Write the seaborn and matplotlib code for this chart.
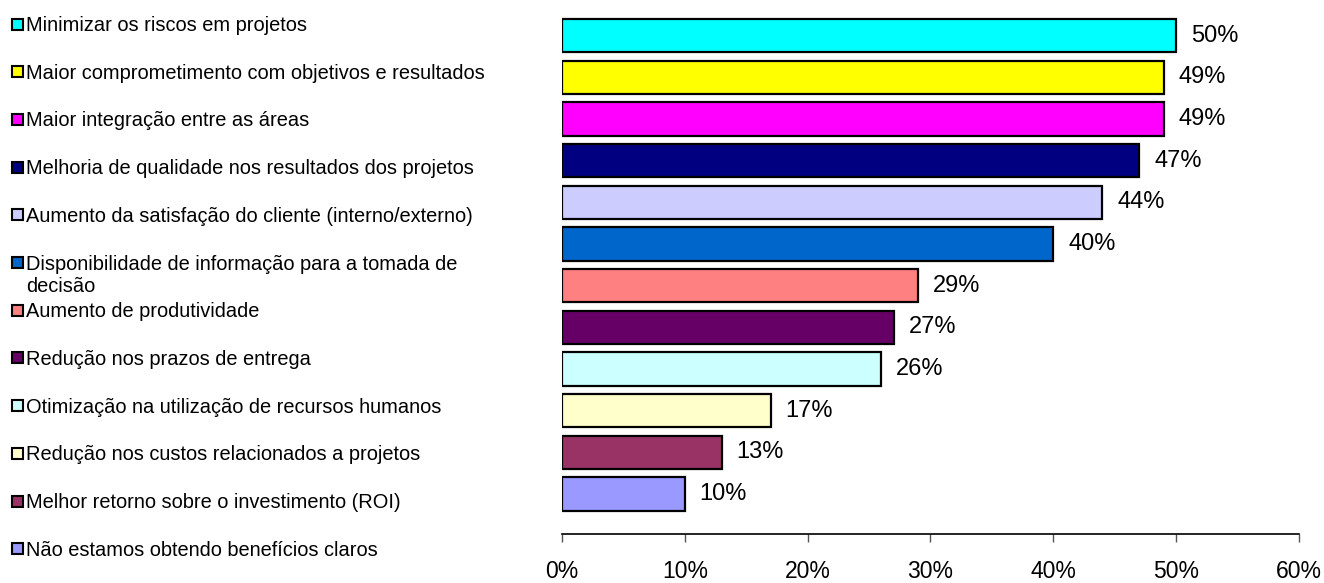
import matplotlib
matplotlib.use("Agg")
import matplotlib.pyplot as plt
from matplotlib.patches import Rectangle
from matplotlib.ticker import FuncFormatter
import seaborn as sns
import pandas as pd

# Benefits reported from project management practices (% of respondents)
categories = [
    "Minimizar os riscos em projetos",
    "Maior comprometimento com objetivos e resultados",
    "Maior integração entre as áreas",
    "Melhoria de qualidade nos resultados dos projetos",
    "Aumento da satisfação do cliente (interno/externo)",
    "Disponibilidade de informação para a tomada de\ndecisão",
    "Aumento de produtividade",
    "Redução nos prazos de entrega",
    "Otimização na utilização de recursos humanos",
    "Redução nos custos relacionados a projetos",
    "Melhor retorno sobre o investimento (ROI)",
    "Não estamos obtendo benefícios claros",
]
values = [50, 49, 49, 47, 44, 40, 29, 27, 26, 17, 13, 10]
colors = [
    "#00FFFF", "#FFFF00", "#FF00FF", "#000080", "#CCCCFF", "#0066CC",
    "#FF8080", "#660066", "#CCFFFF", "#FFFFCC", "#993366", "#9999FF",
]
xticks = [0, 10, 20, 30, 40, 50, 60]

df = pd.DataFrame({"categoria": categories, "valor": values})
palette = dict(zip(categories, colors))

sns.set_theme(style="white")
plt.rcParams["font.family"] = ["Liberation Sans", "DejaVu Sans"]

W, H = 1324, 583
fig = plt.figure(figsize=(W / 100, H / 100), dpi=100)
ax = fig.add_axes([562 / W, 1 - 534 / H, (1299 - 562) / W, (534 - 15) / H])

sns.barplot(
    data=df, x="valor", y="categoria", hue="categoria", palette=palette,
    order=categories, hue_order=categories, dodge=False, legend=False,
    width=0.8, edgecolor="black", linewidth=1.6, saturation=1, ax=ax,
)

# Value labels to the right of each bar
for i, v in enumerate(values):
    ax.text(v + 1.2, i, f"{v}%", va="center", ha="left", fontsize=17,
            color="black")

ax.set_xlim(0, 60)
ax.set_ylim(11.96, -0.5)
ax.set_xticks(xticks)
ax.xaxis.set_major_formatter(FuncFormatter(lambda x, _: f"{x:.0f}%"))
ax.tick_params(axis="x", direction="out", length=6, width=1, color="#555555",
               labelsize=16.5, labelcolor="black", pad=13, bottom=True)
ax.set_yticks([])
ax.set_xlabel("")
ax.set_ylabel("")
for side in ("top", "right", "left"):
    ax.spines[side].set_visible(False)
ax.spines["bottom"].set_color("black")
ax.spines["bottom"].set_linewidth(1.2)

# Legend column on the left, one row per category
row0, pitch, line_gap = 24, 47.7, 22
for i, (lab, col) in enumerate(zip(categories, colors)):
    yc = row0 + i * pitch
    fig.patches.append(Rectangle(
        (12 / W, 1 - (yc + 5.5) / H), 11 / W, 11 / H,
        transform=fig.transFigure, facecolor=col, edgecolor="black",
        linewidth=1.5))
    for k, line in enumerate(lab.split("\n")):
        fig.text(26 / W, 1 - (yc + 7 + k * line_gap) / H, line,
                 ha="left", va="baseline", fontsize=14.4, color="black")

fig.savefig("out.png", dpi=100, facecolor="white")
